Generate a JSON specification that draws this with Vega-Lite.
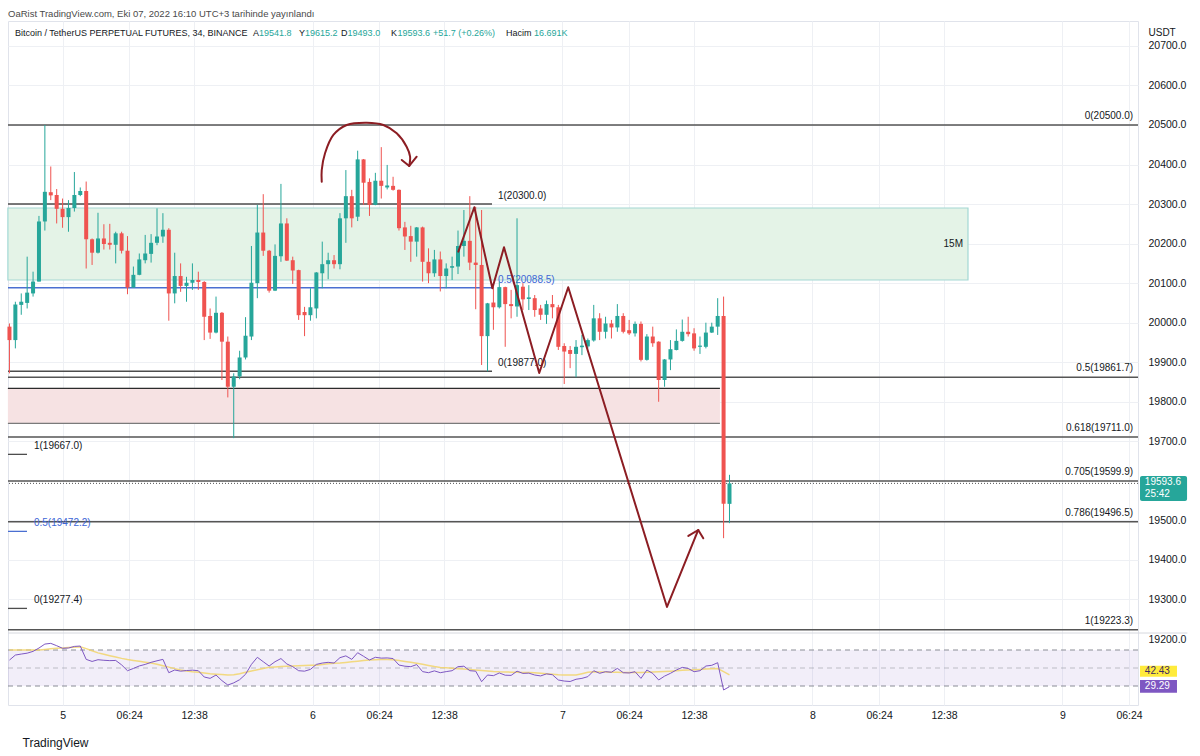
{
  "$schema": "https://vega.github.io/schema/vega-lite/v6.json",
  "autosize": {"type": "none"},
  "width": 1130,
  "height": 684,
  "padding": {"left": 8, "top": 21, "right": 62, "bottom": 51},
  "background": "#ffffff",
  "title": {
    "text": "OaRist TradingView.com, Eki 07, 2022 16:10 UTC+3 tarihinde yayınlandı",
    "anchor": "start", "frame": "group", "fontSize": 9.5, "fontWeight": "normal",
    "color": "#4a4a4a", "offset": -7, "baseline": "bottom"
  },
  "config": {
    "font": "Liberation Sans",
    "view": {"stroke": "#e0e3eb"},
    "scale": {"continuousPadding": 0}
  },
  "datasets": {
    "candles": [
      {"t":"2022-10-04T18:54Z","o":19990,"h":19998,"l":19872,"c":19956,"rsi":58.8,"ma":70},
      {"t":"2022-10-04T19:28Z","o":19956,"h":20053,"l":19935,"c":20046,"rsi":64.4,"ma":70},
      {"t":"2022-10-04T20:02Z","o":20045,"h":20074,"l":20020,"c":20053,"rsi":65.5,"ma":70},
      {"t":"2022-10-04T20:36Z","o":20050,"h":20167,"l":20036,"c":20076,"rsi":66.5,"ma":70},
      {"t":"2022-10-04T21:10Z","o":20074,"h":20129,"l":20066,"c":20104,"rsi":68.5,"ma":70},
      {"t":"2022-10-04T21:44Z","o":20104,"h":20270,"l":20104,"c":20256,"rsi":72.2,"ma":70.1},
      {"t":"2022-10-04T22:18Z","o":20256,"h":20500,"l":20233,"c":20331,"rsi":76.6,"ma":70.7},
      {"t":"2022-10-04T22:52Z","o":20330,"h":20395,"l":20310,"c":20322,"rsi":77.4,"ma":71.3},
      {"t":"2022-10-04T23:26Z","o":20323,"h":20338,"l":20251,"c":20288,"rsi":74.8,"ma":71.9},
      {"t":"2022-10-05T00:00Z","o":20288,"h":20314,"l":20240,"c":20267,"rsi":71.9,"ma":72.3},
      {"t":"2022-10-05T00:34Z","o":20267,"h":20310,"l":20230,"c":20290,"rsi":72.2,"ma":72.8},
      {"t":"2022-10-05T01:08Z","o":20290,"h":20381,"l":20281,"c":20323,"rsi":74,"ma":73.2},
      {"t":"2022-10-05T01:42Z","o":20323,"h":20342,"l":20320,"c":20333,"rsi":74.4,"ma":73.7},
      {"t":"2022-10-05T02:16Z","o":20333,"h":20357,"l":20137,"c":20211,"rsi":59.6,"ma":71.5},
      {"t":"2022-10-05T02:50Z","o":20211,"h":20213,"l":20146,"c":20177,"rsi":57.3,"ma":69.1},
      {"t":"2022-10-05T03:24Z","o":20177,"h":20278,"l":20175,"c":20213,"rsi":59.2,"ma":66.8},
      {"t":"2022-10-05T03:58Z","o":20213,"h":20249,"l":20185,"c":20199,"rsi":58.6,"ma":65.2},
      {"t":"2022-10-05T04:32Z","o":20202,"h":20250,"l":20185,"c":20197,"rsi":58.2,"ma":63.7},
      {"t":"2022-10-05T05:06Z","o":20197,"h":20230,"l":20150,"c":20226,"rsi":58.4,"ma":62.2},
      {"t":"2022-10-05T05:40Z","o":20226,"h":20230,"l":20175,"c":20182,"rsi":53.5,"ma":60.7},
      {"t":"2022-10-05T06:14Z","o":20182,"h":20219,"l":20072,"c":20089,"rsi":47,"ma":59.4},
      {"t":"2022-10-05T06:48Z","o":20089,"h":20142,"l":20088,"c":20121,"rsi":49.5,"ma":58.4},
      {"t":"2022-10-05T07:22Z","o":20121,"h":20175,"l":20120,"c":20160,"rsi":52.3,"ma":57.4},
      {"t":"2022-10-05T07:56Z","o":20158,"h":20222,"l":20150,"c":20175,"rsi":54,"ma":56.5},
      {"t":"2022-10-05T08:30Z","o":20174,"h":20224,"l":20152,"c":20202,"rsi":56.3,"ma":55.5},
      {"t":"2022-10-05T09:04Z","o":20202,"h":20289,"l":20196,"c":20218,"rsi":58,"ma":54.1},
      {"t":"2022-10-05T09:38Z","o":20218,"h":20277,"l":20202,"c":20235,"rsi":59.6,"ma":52.5},
      {"t":"2022-10-05T10:12Z","o":20235,"h":20239,"l":20005,"c":20074,"rsi":44.8,"ma":51},
      {"t":"2022-10-05T10:46Z","o":20074,"h":20177,"l":20049,"c":20118,"rsi":47.8,"ma":49.3},
      {"t":"2022-10-05T11:20Z","o":20118,"h":20150,"l":20078,"c":20093,"rsi":46.5,"ma":47.7},
      {"t":"2022-10-05T11:54Z","o":20093,"h":20116,"l":20053,"c":20101,"rsi":47.2,"ma":46.6},
      {"t":"2022-10-05T12:28Z","o":20101,"h":20150,"l":20083,"c":20108,"rsi":47.6,"ma":45.8},
      {"t":"2022-10-05T13:02Z","o":20108,"h":20129,"l":20083,"c":20103,"rsi":47,"ma":45.3},
      {"t":"2022-10-05T13:36Z","o":20103,"h":20105,"l":19956,"c":20015,"rsi":40,"ma":44.5},
      {"t":"2022-10-05T14:10Z","o":20017,"h":20036,"l":19959,"c":19975,"rsi":38.5,"ma":43.6},
      {"t":"2022-10-05T14:44Z","o":19975,"h":20066,"l":19973,"c":20025,"rsi":42.2,"ma":43.1},
      {"t":"2022-10-05T15:18Z","o":20025,"h":20027,"l":19855,"c":19952,"rsi":36,"ma":42.7},
      {"t":"2022-10-05T15:52Z","o":19952,"h":19965,"l":19811,"c":19838,"rsi":31.1,"ma":42.3},
      {"t":"2022-10-05T16:26Z","o":19838,"h":19872,"l":19708,"c":19864,"rsi":33.5,"ma":42.5},
      {"t":"2022-10-05T17:00Z","o":19864,"h":19929,"l":19857,"c":19912,"rsi":37,"ma":43.6},
      {"t":"2022-10-05T17:34Z","o":19912,"h":20014,"l":19907,"c":19967,"rsi":43,"ma":45.2},
      {"t":"2022-10-05T18:08Z","o":19965,"h":20194,"l":19956,"c":20101,"rsi":54,"ma":46.6},
      {"t":"2022-10-05T18:42Z","o":20100,"h":20298,"l":20062,"c":20228,"rsi":61.9,"ma":48.1},
      {"t":"2022-10-05T19:16Z","o":20228,"h":20325,"l":20169,"c":20182,"rsi":57,"ma":49.5},
      {"t":"2022-10-05T19:50Z","o":20182,"h":20184,"l":20076,"c":20081,"rsi":52.2,"ma":50.8},
      {"t":"2022-10-05T20:24Z","o":20081,"h":20198,"l":20080,"c":20169,"rsi":57,"ma":51.2},
      {"t":"2022-10-05T20:58Z","o":20168,"h":20351,"l":20154,"c":20251,"rsi":60.5,"ma":51.6},
      {"t":"2022-10-05T21:32Z","o":20251,"h":20264,"l":20156,"c":20157,"rsi":54.5,"ma":52},
      {"t":"2022-10-05T22:06Z","o":20158,"h":20167,"l":20098,"c":20132,"rsi":51.5,"ma":52.3},
      {"t":"2022-10-05T22:40Z","o":20133,"h":20134,"l":20007,"c":20019,"rsi":47,"ma":52.5},
      {"t":"2022-10-05T23:14Z","o":20027,"h":20040,"l":19966,"c":20019,"rsi":46.5,"ma":52.8},
      {"t":"2022-10-05T23:48Z","o":20019,"h":20087,"l":20005,"c":20039,"rsi":48.5,"ma":53},
      {"t":"2022-10-06T00:22Z","o":20036,"h":20128,"l":20011,"c":20127,"rsi":54,"ma":53.2},
      {"t":"2022-10-06T00:56Z","o":20125,"h":20205,"l":20087,"c":20148,"rsi":55.5,"ma":53.9},
      {"t":"2022-10-06T01:30Z","o":20148,"h":20177,"l":20110,"c":20158,"rsi":56.3,"ma":54.6},
      {"t":"2022-10-06T02:04Z","o":20158,"h":20171,"l":20137,"c":20148,"rsi":55.5,"ma":55.2},
      {"t":"2022-10-06T02:38Z","o":20148,"h":20277,"l":20135,"c":20264,"rsi":61.5,"ma":55.6},
      {"t":"2022-10-06T03:12Z","o":20264,"h":20386,"l":20202,"c":20320,"rsi":63.5,"ma":56.2},
      {"t":"2022-10-06T03:46Z","o":20320,"h":20336,"l":20241,"c":20264,"rsi":59.6,"ma":56.9},
      {"t":"2022-10-06T04:20Z","o":20268,"h":20435,"l":20257,"c":20413,"rsi":67,"ma":57.6},
      {"t":"2022-10-06T04:54Z","o":20413,"h":20414,"l":20298,"c":20354,"rsi":63,"ma":58.4},
      {"t":"2022-10-06T05:28Z","o":20356,"h":20365,"l":20270,"c":20298,"rsi":58.9,"ma":59},
      {"t":"2022-10-06T06:02Z","o":20298,"h":20379,"l":20297,"c":20359,"rsi":61.9,"ma":59.2},
      {"t":"2022-10-06T06:36Z","o":20359,"h":20444,"l":20314,"c":20346,"rsi":61,"ma":59.4},
      {"t":"2022-10-06T07:10Z","o":20342,"h":20399,"l":20337,"c":20347,"rsi":61.2,"ma":59.5},
      {"t":"2022-10-06T07:44Z","o":20346,"h":20369,"l":20334,"c":20336,"rsi":60.5,"ma":59.3},
      {"t":"2022-10-06T08:18Z","o":20336,"h":20337,"l":20233,"c":20239,"rsi":53.3,"ma":58.3},
      {"t":"2022-10-06T08:52Z","o":20241,"h":20255,"l":20184,"c":20218,"rsi":52,"ma":57.3},
      {"t":"2022-10-06T09:26Z","o":20219,"h":20245,"l":20154,"c":20205,"rsi":51.5,"ma":56.4},
      {"t":"2022-10-06T10:00Z","o":20205,"h":20242,"l":20167,"c":20241,"rsi":53.8,"ma":55.3},
      {"t":"2022-10-06T10:34Z","o":20241,"h":20243,"l":20104,"c":20154,"rsi":46,"ma":54.1},
      {"t":"2022-10-06T11:08Z","o":20154,"h":20188,"l":20100,"c":20125,"rsi":44.8,"ma":52.9},
      {"t":"2022-10-06T11:42Z","o":20125,"h":20184,"l":20116,"c":20160,"rsi":46.8,"ma":51.7},
      {"t":"2022-10-06T12:16Z","o":20160,"h":20180,"l":20079,"c":20118,"rsi":44.8,"ma":50.7},
      {"t":"2022-10-06T12:50Z","o":20118,"h":20150,"l":20087,"c":20137,"rsi":46,"ma":50.2},
      {"t":"2022-10-06T13:24Z","o":20139,"h":20167,"l":20108,"c":20143,"rsi":47,"ma":49.7},
      {"t":"2022-10-06T13:58Z","o":20142,"h":20233,"l":20123,"c":20194,"rsi":51.5,"ma":49.2},
      {"t":"2022-10-06T14:32Z","o":20194,"h":20285,"l":20167,"c":20207,"rsi":52,"ma":48.8},
      {"t":"2022-10-06T15:06Z","o":20207,"h":20320,"l":20133,"c":20152,"rsi":47,"ma":48.3},
      {"t":"2022-10-06T15:40Z","o":20152,"h":20293,"l":20034,"c":20146,"rsi":46.5,"ma":47.8},
      {"t":"2022-10-06T16:14Z","o":20146,"h":20285,"l":19893,"c":19966,"rsi":34.8,"ma":47.3},
      {"t":"2022-10-06T16:48Z","o":19966,"h":20050,"l":19877,"c":20049,"rsi":42.2,"ma":46.8},
      {"t":"2022-10-06T17:22Z","o":20051,"h":20091,"l":19982,"c":20039,"rsi":41.5,"ma":46.2},
      {"t":"2022-10-06T17:56Z","o":20039,"h":20104,"l":20036,"c":20090,"rsi":44.5,"ma":45.8},
      {"t":"2022-10-06T18:30Z","o":20090,"h":20091,"l":19939,"c":20047,"rsi":42,"ma":45.6},
      {"t":"2022-10-06T19:04Z","o":20047,"h":20083,"l":20011,"c":20042,"rsi":41.8,"ma":45.4},
      {"t":"2022-10-06T19:38Z","o":20041,"h":20264,"l":20015,"c":20095,"rsi":46.5,"ma":45.3},
      {"t":"2022-10-06T20:12Z","o":20091,"h":20100,"l":20032,"c":20059,"rsi":44,"ma":45.1},
      {"t":"2022-10-06T20:46Z","o":20060,"h":20095,"l":20032,"c":20064,"rsi":44.3,"ma":45},
      {"t":"2022-10-06T21:20Z","o":20062,"h":20070,"l":20015,"c":20032,"rsi":42.2,"ma":44.8},
      {"t":"2022-10-06T21:54Z","o":20036,"h":20045,"l":20007,"c":20020,"rsi":41.2,"ma":44.3},
      {"t":"2022-10-06T22:28Z","o":20020,"h":20056,"l":19997,"c":20047,"rsi":43.5,"ma":43.6},
      {"t":"2022-10-06T23:02Z","o":20047,"h":20070,"l":20011,"c":20039,"rsi":42.5,"ma":43},
      {"t":"2022-10-06T23:36Z","o":20039,"h":20045,"l":19931,"c":19939,"rsi":36.7,"ma":42.5},
      {"t":"2022-10-07T00:10Z","o":19941,"h":19948,"l":19845,"c":19927,"rsi":35.5,"ma":42.3},
      {"t":"2022-10-07T00:44Z","o":19931,"h":19941,"l":19885,"c":19921,"rsi":35,"ma":42.2},
      {"t":"2022-10-07T01:18Z","o":19921,"h":19956,"l":19862,"c":19939,"rsi":37.5,"ma":42.3},
      {"t":"2022-10-07T01:52Z","o":19938,"h":19969,"l":19918,"c":19942,"rsi":38.5,"ma":43.7},
      {"t":"2022-10-07T02:26Z","o":19940,"h":19960,"l":19935,"c":19956,"rsi":40.4,"ma":45.2},
      {"t":"2022-10-07T03:00Z","o":19955,"h":20045,"l":19952,"c":20011,"rsi":47,"ma":45.9},
      {"t":"2022-10-07T03:34Z","o":20011,"h":20024,"l":19956,"c":19977,"rsi":44.1,"ma":45.7},
      {"t":"2022-10-07T04:08Z","o":19977,"h":20015,"l":19960,"c":19998,"rsi":45.9,"ma":45.6},
      {"t":"2022-10-07T04:42Z","o":19998,"h":20007,"l":19960,"c":19988,"rsi":45.3,"ma":45.4},
      {"t":"2022-10-07T05:16Z","o":19988,"h":20047,"l":19977,"c":20017,"rsi":49.6,"ma":45.3},
      {"t":"2022-10-07T05:50Z","o":20017,"h":20024,"l":19973,"c":19977,"rsi":44.8,"ma":45.1},
      {"t":"2022-10-07T06:24Z","o":19981,"h":20007,"l":19969,"c":19973,"rsi":44.5,"ma":45},
      {"t":"2022-10-07T06:58Z","o":19973,"h":20003,"l":19965,"c":19997,"rsi":45.9,"ma":44.9},
      {"t":"2022-10-07T07:32Z","o":19997,"h":20003,"l":19902,"c":19906,"rsi":38.5,"ma":45},
      {"t":"2022-10-07T08:06Z","o":19906,"h":19971,"l":19904,"c":19965,"rsi":47.8,"ma":45.3},
      {"t":"2022-10-07T08:40Z","o":19965,"h":19990,"l":19939,"c":19948,"rsi":44,"ma":45.5},
      {"t":"2022-10-07T09:14Z","o":19952,"h":19953,"l":19800,"c":19855,"rsi":36.7,"ma":45.8},
      {"t":"2022-10-07T09:48Z","o":19855,"h":19908,"l":19838,"c":19907,"rsi":41,"ma":46.1},
      {"t":"2022-10-07T10:22Z","o":19907,"h":19956,"l":19880,"c":19933,"rsi":44.1,"ma":46.5},
      {"t":"2022-10-07T10:56Z","o":19931,"h":19983,"l":19930,"c":19954,"rsi":47.8,"ma":47},
      {"t":"2022-10-07T11:30Z","o":19954,"h":20008,"l":19952,"c":19977,"rsi":50.7,"ma":47.4},
      {"t":"2022-10-07T12:04Z","o":19977,"h":20015,"l":19965,"c":19971,"rsi":49.5,"ma":47.7},
      {"t":"2022-10-07T12:38Z","o":19973,"h":19986,"l":19929,"c":19935,"rsi":45.9,"ma":48.1},
      {"t":"2022-10-07T13:12Z","o":19939,"h":19965,"l":19921,"c":19942,"rsi":47,"ma":48.4},
      {"t":"2022-10-07T13:46Z","o":19939,"h":20000,"l":19935,"c":19975,"rsi":52.2,"ma":48.8},
      {"t":"2022-10-07T14:20Z","o":19975,"h":20000,"l":19974,"c":19990,"rsi":53,"ma":49.3},
      {"t":"2022-10-07T14:54Z","o":19990,"h":20062,"l":19969,"c":20017,"rsi":55.9,"ma":49.4},
      {"t":"2022-10-07T15:28Z","o":20017,"h":20066,"l":19455,"c":19542,"rsi":25.6,"ma":46},
      {"t":"2022-10-07T16:02Z","o":19541.8,"h":19615.2,"l":19493,"c":19593.6,"rsi":29.29,"ma":42.43}
    ],
    "rightFib": [
      {"p": 20500, "lbl": "0(20500.0)"},
      {"p": 19861.7, "lbl": "0.5(19861.7)"},
      {"p": 19711, "lbl": "0.618(19711.0)"},
      {"p": 19599.9, "lbl": "0.705(19599.9)"},
      {"p": 19496.5, "lbl": "0.786(19496.5)"},
      {"p": 19223.3, "lbl": "1(19223.3)"}
    ],
    "midFib": [
      {"p": 20300, "lbl": "1(20300.0)", "lvl": "1"},
      {"p": 20088.5, "lbl": "0.5(20088.5)", "lvl": "0.5"},
      {"p": 19877, "lbl": "0(19877.0)", "lvl": "0"}
    ],
    "leftFib": [
      {"p": 19667, "lbl": "1(19667.0)", "lvl": "1"},
      {"p": 19472.2, "lbl": "0.5(19472.2)", "lvl": "0.5"},
      {"p": 19277.4, "lbl": "0(19277.4)", "lvl": "0"}
    ],
    "zone15m": [
      {"name": "15M", "t1": "2022-10-04T18:45Z", "t2": "2022-10-08T14:56Z", "lo": 20108, "hi": 20290, "mid": 20199}
    ],
    "demandZone": [
      {"t1": "2022-10-04T18:45Z", "t2": "2022-10-07T15:07Z", "lo": 19745.6, "hi": 19834}
    ],
    "demandEdges": [
      {"t1": "2022-10-04T18:45Z", "t2": "2022-10-07T15:07Z", "p": 19834, "edge": "top"},
      {"t1": "2022-10-04T18:45Z", "t2": "2022-10-07T15:07Z", "p": 19745.6, "edge": "bottom"}
    ],
    "strokes": [
      {"id": "zigzag", "i": 1, "t": "2022-10-06T14:00Z", "p": 20179.6},
      {"id": "zigzag", "i": 2, "t": "2022-10-06T15:32Z", "p": 20291.9},
      {"id": "zigzag", "i": 3, "t": "2022-10-06T17:16Z", "p": 20087},
      {"id": "zigzag", "i": 4, "t": "2022-10-06T18:23Z", "p": 20190.7},
      {"id": "zigzag", "i": 5, "t": "2022-10-06T21:46Z", "p": 19872.8},
      {"id": "zigzag", "i": 6, "t": "2022-10-07T00:33Z", "p": 20089.5},
      {"id": "zigzag", "i": 7, "t": "2022-10-07T10:02Z", "p": 19281},
      {"id": "zigzag", "i": 8, "t": "2022-10-07T13:02Z", "p": 19475.7},
      {"id": "zigzag-head", "i": 1, "t": "2022-10-07T12:05Z", "p": 19460.6},
      {"id": "zigzag-head", "i": 2, "t": "2022-10-07T13:02Z", "p": 19475.7},
      {"id": "zigzag-head", "i": 3, "t": "2022-10-07T13:31Z", "p": 19454.7},
      {"id": "arc-head", "i": 1, "t": "2022-10-06T08:34Z", "p": 20411.5},
      {"id": "arc-head", "i": 2, "t": "2022-10-06T09:17Z", "p": 20396.3},
      {"id": "arc-head", "i": 3, "t": "2022-10-06T10:00Z", "p": 20419.8}
    ],
    "arc": [
      {"i": 1, "t": "2022-10-06T00:53Z", "p": 20356.6},
      {"i": 2, "t": "2022-10-06T00:53Z", "p": 20386.2},
      {"i": 3, "t": "2022-10-06T01:12Z", "p": 20428.4},
      {"i": 4, "t": "2022-10-06T02:00Z", "p": 20474.7},
      {"i": 5, "t": "2022-10-06T03:17Z", "p": 20500},
      {"i": 6, "t": "2022-10-06T05:12Z", "p": 20505.8},
      {"i": 7, "t": "2022-10-06T06:48Z", "p": 20500},
      {"i": 8, "t": "2022-10-06T08:05Z", "p": 20479},
      {"i": 9, "t": "2022-10-06T09:02Z", "p": 20445.1},
      {"i": 10, "t": "2022-10-06T09:22Z", "p": 20419.8},
      {"i": 11, "t": "2022-10-06T09:17Z", "p": 20396.3}
    ]
  },
  "layer": [
    {
      "layer": [
        {
          "data": {"name": "zone15m"},
          "mark": {"type": "rect", "fill": "#e4f3e7", "stroke": "#a3d8d4", "strokeWidth": 1.2},
          "encoding": {
            "x": {
              "field": "t1", "type": "temporal",
              "scale": {"type": "utc", "nice": false, "padding": 0, "domain": [
                {"year": 2022, "month": 10, "date": 4, "hours": 18, "minutes": 45, "seconds": 36, "utc": true},
                {"year": 2022, "month": 10, "date": 9, "hours": 7, "minutes": 15, "seconds": 24, "utc": true}
              ]},
              "axis": {
                "title": "TradingView",
                "titleX": 14, "titleY": 37, "titleAlign": "left", "titleBaseline": "middle",
                "titleFontSize": 12, "titleFontWeight": "normal", "titleColor": "#131722",
                "values": [
                  {"year": 2022, "month": 10, "date": 5, "hours": 0, "minutes": 0, "utc": true},
                  {"year": 2022, "month": 10, "date": 5, "hours": 6, "minutes": 24, "utc": true},
                  {"year": 2022, "month": 10, "date": 5, "hours": 12, "minutes": 38, "utc": true},
                  {"year": 2022, "month": 10, "date": 6, "hours": 0, "minutes": 0, "utc": true},
                  {"year": 2022, "month": 10, "date": 6, "hours": 6, "minutes": 24, "utc": true},
                  {"year": 2022, "month": 10, "date": 6, "hours": 12, "minutes": 38, "utc": true},
                  {"year": 2022, "month": 10, "date": 7, "hours": 0, "minutes": 0, "utc": true},
                  {"year": 2022, "month": 10, "date": 7, "hours": 6, "minutes": 24, "utc": true},
                  {"year": 2022, "month": 10, "date": 7, "hours": 12, "minutes": 38, "utc": true},
                  {"year": 2022, "month": 10, "date": 8, "hours": 0, "minutes": 0, "utc": true},
                  {"year": 2022, "month": 10, "date": 8, "hours": 6, "minutes": 24, "utc": true},
                  {"year": 2022, "month": 10, "date": 8, "hours": 12, "minutes": 38, "utc": true},
                  {"year": 2022, "month": 10, "date": 9, "hours": 0, "minutes": 0, "utc": true},
                  {"year": 2022, "month": 10, "date": 9, "hours": 6, "minutes": 24, "utc": true}
                ],
                "labelExpr": "utcFormat(datum.value, '%H:%M') == '00:00' ? utcFormat(datum.value, '%-d') : utcFormat(datum.value, '%H:%M')",
                "labelFontSize": 10.5, "labelColor": "#131722", "labelPadding": 5,
                "labelOverlap": false, "labelFlush": false,
                "ticks": false, "domain": false,
                "grid": true, "gridColor": "#eef0f4", "gridWidth": 1
              }
            },
            "x2": {"field": "t2"},
            "y": {
              "field": "lo", "type": "quantitative",
              "scale": {"domain": [19033.1, 20763], "nice": false, "zero": false, "padding": 0},
              "axis": {
                "orient": "right",
                "title": "USDT", "titleAngle": 0, "titleX": 10, "titleY": 11,
                "titleAlign": "left", "titleBaseline": "middle",
                "titleFontSize": 10, "titleFontWeight": "normal", "titleColor": "#131722",
                "values": [19200, 19300, 19400, 19500, 19700, 19800, 19900, 20000, 20100, 20200, 20300, 20400, 20500, 20600, 20700],
                "format": ".1f",
                "labelFontSize": 10.5, "labelColor": "#131722", "labelPadding": 10,
                "ticks": false, "domain": false,
                "grid": true, "gridColor": "#eef0f4",
                "gridOpacity": {"condition": {"test": "datum.value < 19210", "value": 0}, "value": 1}
              }
            },
            "y2": {"field": "hi"}
          }
        },
        {
          "data": {"name": "zone15m"},
          "mark": {"type": "text", "align": "right", "baseline": "middle", "dx": -5, "fontSize": 10, "color": "#131722"},
          "encoding": {
            "x": {"field": "t2", "type": "temporal"},
            "y": {"field": "mid", "type": "quantitative"},
            "text": {"field": "name"}
          }
        },
        {
          "data": {"name": "demandZone"},
          "mark": {"type": "rect", "fill": "#f6e2e3"},
          "encoding": {
            "x": {"field": "t1", "type": "temporal"},
            "x2": {"field": "t2"},
            "y": {"field": "lo", "type": "quantitative"},
            "y2": {"field": "hi"}
          }
        },
        {
          "data": {"name": "demandEdges"},
          "mark": {"type": "rule", "strokeWidth": 1.3},
          "encoding": {
            "x": {"field": "t1", "type": "temporal"},
            "x2": {"field": "t2"},
            "y": {"field": "p", "type": "quantitative"},
            "color": {"condition": {"test": "datum.edge === 'top'", "value": "#2b2b2b"}, "value": "#7a7a7a"}
          }
        },
        {
          "data": {"name": "rightFib"},
          "mark": {"type": "rule", "color": "#555555", "strokeWidth": 1.5},
          "encoding": {"y": {"field": "p", "type": "quantitative"}}
        },
        {
          "data": {"name": "rightFib"},
          "mark": {"type": "text", "align": "right", "baseline": "middle", "dy": -9, "fontSize": 10, "color": "#131722"},
          "encoding": {
            "x": {"datum": {"year": 2022, "month": 10, "date": 9, "hours": 6, "minutes": 47, "utc": true}},
            "y": {"field": "p", "type": "quantitative"},
            "text": {"field": "lbl"}
          }
        },
        {
          "data": {"values": [{"p": 19593.6}]},
          "mark": {"type": "rule", "color": "#555555", "strokeWidth": 1, "strokeDash": [1, 2]},
          "encoding": {"y": {"field": "p", "type": "quantitative"}}
        },
        {
          "data": {"name": "midFib"},
          "mark": {"type": "rule", "strokeWidth": 1.5},
          "encoding": {
            "x": {"datum": {"year": 2022, "month": 10, "date": 4, "hours": 18, "minutes": 45, "seconds": 36, "utc": true}},
            "x2": {"datum": {"year": 2022, "month": 10, "date": 6, "hours": 17, "minutes": 14, "utc": true}},
            "y": {"field": "p", "type": "quantitative"},
            "color": {"condition": {"test": "datum.lvl === '0.5'", "value": "#4a6fd1"}, "value": "#4d4d4d"}
          }
        },
        {
          "data": {"name": "midFib"},
          "mark": {"type": "text", "align": "left", "baseline": "middle", "dy": -8, "fontSize": 10},
          "encoding": {
            "x": {"datum": {"year": 2022, "month": 10, "date": 6, "hours": 17, "minutes": 48, "utc": true}},
            "y": {"field": "p", "type": "quantitative"},
            "text": {"field": "lbl"},
            "color": {"condition": {"test": "datum.lvl === '0.5'", "value": "#3d66d6"}, "value": "#131722"}
          }
        },
        {
          "data": {"name": "leftFib"},
          "mark": {"type": "rule", "strokeWidth": 1.3},
          "encoding": {
            "x": {"datum": {"year": 2022, "month": 10, "date": 4, "hours": 18, "minutes": 45, "seconds": 36, "utc": true}},
            "x2": {"datum": {"year": 2022, "month": 10, "date": 4, "hours": 20, "minutes": 35, "utc": true}},
            "y": {"field": "p", "type": "quantitative"},
            "color": {"condition": {"test": "datum.lvl === '0.5'", "value": "#4a6fd1"}, "value": "#4d4d4d"}
          }
        },
        {
          "data": {"name": "leftFib"},
          "mark": {"type": "text", "align": "left", "baseline": "middle", "dy": -8, "fontSize": 10},
          "encoding": {
            "x": {"datum": {"year": 2022, "month": 10, "date": 4, "hours": 21, "minutes": 15, "utc": true}},
            "y": {"field": "p", "type": "quantitative"},
            "text": {"field": "lbl"},
            "color": {"condition": {"test": "datum.lvl === '0.5'", "value": "#3d66d6"}, "value": "#131722"}
          }
        },
        {
          "data": {"name": "candles"},
          "mark": {"type": "rule", "strokeWidth": 1},
          "encoding": {
            "x": {"field": "t", "type": "temporal"},
            "y": {"field": "l", "type": "quantitative"},
            "y2": {"field": "h"},
            "color": {"condition": {"test": "datum.c >= datum.o", "value": "#26a69a"}, "value": "#ef5350"}
          }
        },
        {
          "data": {"name": "candles"},
          "mark": {"type": "bar", "size": 4},
          "encoding": {
            "x": {"field": "t", "type": "temporal"},
            "y": {"field": "o", "type": "quantitative", "scale": {"domain": [19033.1, 20763], "nice": false, "zero": false}},
            "y2": {"field": "c"},
            "color": {"condition": {"test": "datum.c >= datum.o", "value": "#26a69a"}, "value": "#ef5350"}
          }
        },
        {
          "data": {"name": "strokes"},
          "mark": {"type": "line", "color": "#8c1d23", "strokeWidth": 2, "strokeCap": "round", "strokeJoin": "round"},
          "encoding": {
            "x": {"field": "t", "type": "temporal"},
            "y": {"field": "p", "type": "quantitative"},
            "detail": {"field": "id"},
            "order": {"field": "i"}
          }
        },
        {
          "data": {"name": "arc"},
          "mark": {"type": "line", "color": "#8c1d23", "strokeWidth": 2, "interpolate": "catmull-rom", "strokeCap": "round"},
          "encoding": {
            "x": {"field": "t", "type": "temporal"},
            "y": {"field": "p", "type": "quantitative"},
            "order": {"field": "i"}
          }
        },
        {
          "data": {"values": [{"s": "Bitcoin / TetherUS PERPETUAL FUTURES, 34, BINANCE"}]},
          "mark": {"type": "text", "align": "left", "baseline": "middle", "fontSize": 9, "color": "#131722"},
          "encoding": {
            "x": {"datum": {"year": 2022, "month": 10, "date": 4, "hours": 19, "minutes": 26, "utc": true}},
            "y": {"datum": 20732.7},
            "text": {"field": "s"}
          }
        },
        {
          "data": {"values": [{"s": "A"}]},
          "mark": {"type": "text", "align": "left", "baseline": "middle", "fontSize": 9, "color": "#131722"},
          "encoding": {
            "x": {"datum": {"year": 2022, "month": 10, "date": 5, "hours": 18, "minutes": 17, "utc": true}},
            "y": {"datum": 20732.7},
            "text": {"field": "s"}
          }
        },
        {
          "data": {"values": [{"s": "19541.8"}]},
          "mark": {"type": "text", "align": "left", "baseline": "middle", "fontSize": 9, "color": "#26a69a"},
          "encoding": {
            "x": {"datum": {"year": 2022, "month": 10, "date": 5, "hours": 18, "minutes": 52, "utc": true}},
            "y": {"datum": 20732.7},
            "text": {"field": "s"}
          }
        },
        {
          "data": {"values": [{"s": "Y"}]},
          "mark": {"type": "text", "align": "left", "baseline": "middle", "fontSize": 9, "color": "#131722"},
          "encoding": {
            "x": {"datum": {"year": 2022, "month": 10, "date": 5, "hours": 22, "minutes": 42, "utc": true}},
            "y": {"datum": 20732.7},
            "text": {"field": "s"}
          }
        },
        {
          "data": {"values": [{"s": "19615.2"}]},
          "mark": {"type": "text", "align": "left", "baseline": "middle", "fontSize": 9, "color": "#26a69a"},
          "encoding": {
            "x": {"datum": {"year": 2022, "month": 10, "date": 5, "hours": 23, "minutes": 17, "utc": true}},
            "y": {"datum": 20732.7},
            "text": {"field": "s"}
          }
        },
        {
          "data": {"values": [{"s": "D"}]},
          "mark": {"type": "text", "align": "left", "baseline": "middle", "fontSize": 9, "color": "#131722"},
          "encoding": {
            "x": {"datum": {"year": 2022, "month": 10, "date": 6, "hours": 2, "minutes": 44, "utc": true}},
            "y": {"datum": 20732.7},
            "text": {"field": "s"}
          }
        },
        {
          "data": {"values": [{"s": "19493.0"}]},
          "mark": {"type": "text", "align": "left", "baseline": "middle", "fontSize": 9, "color": "#26a69a"},
          "encoding": {
            "x": {"datum": {"year": 2022, "month": 10, "date": 6, "hours": 3, "minutes": 22, "utc": true}},
            "y": {"datum": 20732.7},
            "text": {"field": "s"}
          }
        },
        {
          "data": {"values": [{"s": "K"}]},
          "mark": {"type": "text", "align": "left", "baseline": "middle", "fontSize": 9, "color": "#131722"},
          "encoding": {
            "x": {"datum": {"year": 2022, "month": 10, "date": 6, "hours": 7, "minutes": 32, "utc": true}},
            "y": {"datum": 20732.7},
            "text": {"field": "s"}
          }
        },
        {
          "data": {"values": [{"s": "19593.6"}]},
          "mark": {"type": "text", "align": "left", "baseline": "middle", "fontSize": 9, "color": "#26a69a"},
          "encoding": {
            "x": {"datum": {"year": 2022, "month": 10, "date": 6, "hours": 8, "minutes": 9, "utc": true}},
            "y": {"datum": 20732.7},
            "text": {"field": "s"}
          }
        },
        {
          "data": {"values": [{"s": "+51.7 (+0.26%)"}]},
          "mark": {"type": "text", "align": "left", "baseline": "middle", "fontSize": 9, "color": "#26a69a"},
          "encoding": {
            "x": {"datum": {"year": 2022, "month": 10, "date": 6, "hours": 11, "minutes": 34, "utc": true}},
            "y": {"datum": 20732.7},
            "text": {"field": "s"}
          }
        },
        {
          "data": {"values": [{"s": "Hacim"}]},
          "mark": {"type": "text", "align": "left", "baseline": "middle", "fontSize": 9, "color": "#131722"},
          "encoding": {
            "x": {"datum": {"year": 2022, "month": 10, "date": 6, "hours": 18, "minutes": 35, "utc": true}},
            "y": {"datum": 20732.7},
            "text": {"field": "s"}
          }
        },
        {
          "data": {"values": [{"s": "16.691K"}]},
          "mark": {"type": "text", "align": "left", "baseline": "middle", "fontSize": 9, "color": "#26a69a"},
          "encoding": {
            "x": {"datum": {"year": 2022, "month": 10, "date": 6, "hours": 21, "minutes": 16, "utc": true}},
            "y": {"datum": 20732.7},
            "text": {"field": "s"}
          }
        },
        {
          "data": {"values": [{"last": "19593.6", "left": "25:42"}]},
          "mark": {"type": "rect", "fill": "#26a69a", "cornerRadius": 2},
          "encoding": {
            "x": {"datum": {"year": 2022, "month": 10, "date": 9, "hours": 7, "minutes": 27, "utc": true}},
            "x2": {"datum": {"year": 2022, "month": 10, "date": 9, "hours": 11, "minutes": 58, "utc": true}},
            "y": {"datum": 19612.3},
            "y2": {"datum": 19549.1}
          }
        },
        {
          "data": {"values": [{"last": "19593.6", "left": "25:42"}]},
          "mark": {"type": "text", "align": "left", "baseline": "middle", "fontSize": 10, "color": "#ffffff", "dy": -1},
          "encoding": {
            "x": {"datum": {"year": 2022, "month": 10, "date": 9, "hours": 7, "minutes": 55, "utc": true}},
            "y": {"datum": 19593.6},
            "text": {"field": "last"}
          }
        },
        {
          "data": {"values": [{"last": "19593.6", "left": "25:42"}]},
          "mark": {"type": "text", "align": "left", "baseline": "middle", "fontSize": 10, "color": "#ffffff", "dy": 11},
          "encoding": {
            "x": {"datum": {"year": 2022, "month": 10, "date": 9, "hours": 7, "minutes": 55, "utc": true}},
            "y": {"datum": 19593.6},
            "text": {"field": "left"}
          }
        }
      ]
    },
    {
      "layer": [
        {
          "data": {"values": [{"hi": 70, "lo": 30}]},
          "mark": {"type": "rect", "fill": "#7e57c2", "opacity": 0.1},
          "encoding": {
            "x": {"datum": {"year": 2022, "month": 10, "date": 4, "hours": 18, "minutes": 45, "seconds": 36, "utc": true}},
            "x2": {"datum": {"year": 2022, "month": 10, "date": 9, "hours": 7, "minutes": 15, "seconds": 24, "utc": true}},
            "y": {"field": "hi", "type": "quantitative", "axis": null, "scale": {"domain": [8.9, 768.9], "nice": false, "zero": false, "padding": 0}},
            "y2": {"field": "lo"}
          }
        },
        {
          "data": {"values": [{"v": 70}, {"v": 50}, {"v": 30}]},
          "mark": {"type": "rule", "color": "#8a8d96", "strokeWidth": 1, "strokeDash": [5, 4]},
          "encoding": {
            "y": {"field": "v", "type": "quantitative", "axis": null},
            "opacity": {"condition": {"test": "datum.v === 50", "value": 0.5}, "value": 1}
          }
        },
        {
          "data": {"values": [{"v": 88.9}]},
          "mark": {"type": "rule", "color": "#d6d8de", "strokeWidth": 1},
          "encoding": {
            "x": {"datum": {"year": 2022, "month": 10, "date": 4, "hours": 18, "minutes": 45, "seconds": 36, "utc": true}},
            "x2": {"datum": {"year": 2022, "month": 10, "date": 9, "hours": 12, "minutes": 0, "utc": true}},
            "y": {"field": "v", "type": "quantitative", "axis": null}
          }
        },
        {
          "data": {"name": "candles"},
          "mark": {"type": "line", "color": "#f2d56b", "strokeWidth": 1.5, "opacity": 0.85},
          "encoding": {
            "x": {"field": "t", "type": "temporal"},
            "y": {"field": "ma", "type": "quantitative", "axis": null}
          }
        },
        {
          "data": {"name": "candles"},
          "mark": {"type": "line", "color": "#7e57c2", "strokeWidth": 1},
          "encoding": {
            "x": {"field": "t", "type": "temporal"},
            "y": {"field": "rsi", "type": "quantitative", "axis": null, "scale": {"domain": [8.9, 768.9], "nice": false, "zero": false}}
          }
        },
        {
          "data": {"values": [{"lbl": "42.43", "top": 52.6, "bottom": 40.3, "mid": 46.5}]},
          "mark": {"type": "rect", "fill": "#ffeb3b"},
          "encoding": {
            "x": {"datum": {"year": 2022, "month": 10, "date": 9, "hours": 7, "minutes": 27, "utc": true}},
            "x2": {"datum": {"year": 2022, "month": 10, "date": 9, "hours": 11, "minutes": 0, "utc": true}},
            "y": {"field": "top", "type": "quantitative", "axis": null},
            "y2": {"field": "bottom"}
          }
        },
        {
          "data": {"values": [{"lbl": "42.43", "top": 52.6, "bottom": 40.3, "mid": 46.5}]},
          "mark": {"type": "text", "align": "left", "baseline": "middle", "fontSize": 10, "color": "#3b2a63"},
          "encoding": {
            "x": {"datum": {"year": 2022, "month": 10, "date": 9, "hours": 7, "minutes": 55, "utc": true}},
            "y": {"field": "mid", "type": "quantitative", "axis": null},
            "text": {"field": "lbl"}
          }
        },
        {
          "data": {"values": [{"lbl": "29.29", "top": 36.7, "bottom": 22.6, "mid": 29.6}]},
          "mark": {"type": "rect", "fill": "#7e57c2"},
          "encoding": {
            "x": {"datum": {"year": 2022, "month": 10, "date": 9, "hours": 7, "minutes": 27, "utc": true}},
            "x2": {"datum": {"year": 2022, "month": 10, "date": 9, "hours": 11, "minutes": 0, "utc": true}},
            "y": {"field": "top", "type": "quantitative", "axis": null},
            "y2": {"field": "bottom"}
          }
        },
        {
          "data": {"values": [{"lbl": "29.29", "top": 36.7, "bottom": 22.6, "mid": 29.6}]},
          "mark": {"type": "text", "align": "left", "baseline": "middle", "fontSize": 10, "color": "#ffffff"},
          "encoding": {
            "x": {"datum": {"year": 2022, "month": 10, "date": 9, "hours": 7, "minutes": 55, "utc": true}},
            "y": {"field": "mid", "type": "quantitative", "axis": null},
            "text": {"field": "lbl"}
          }
        }
      ]
    }
  ],
  "resolve": {"scale": {"y": "independent"}}
}
